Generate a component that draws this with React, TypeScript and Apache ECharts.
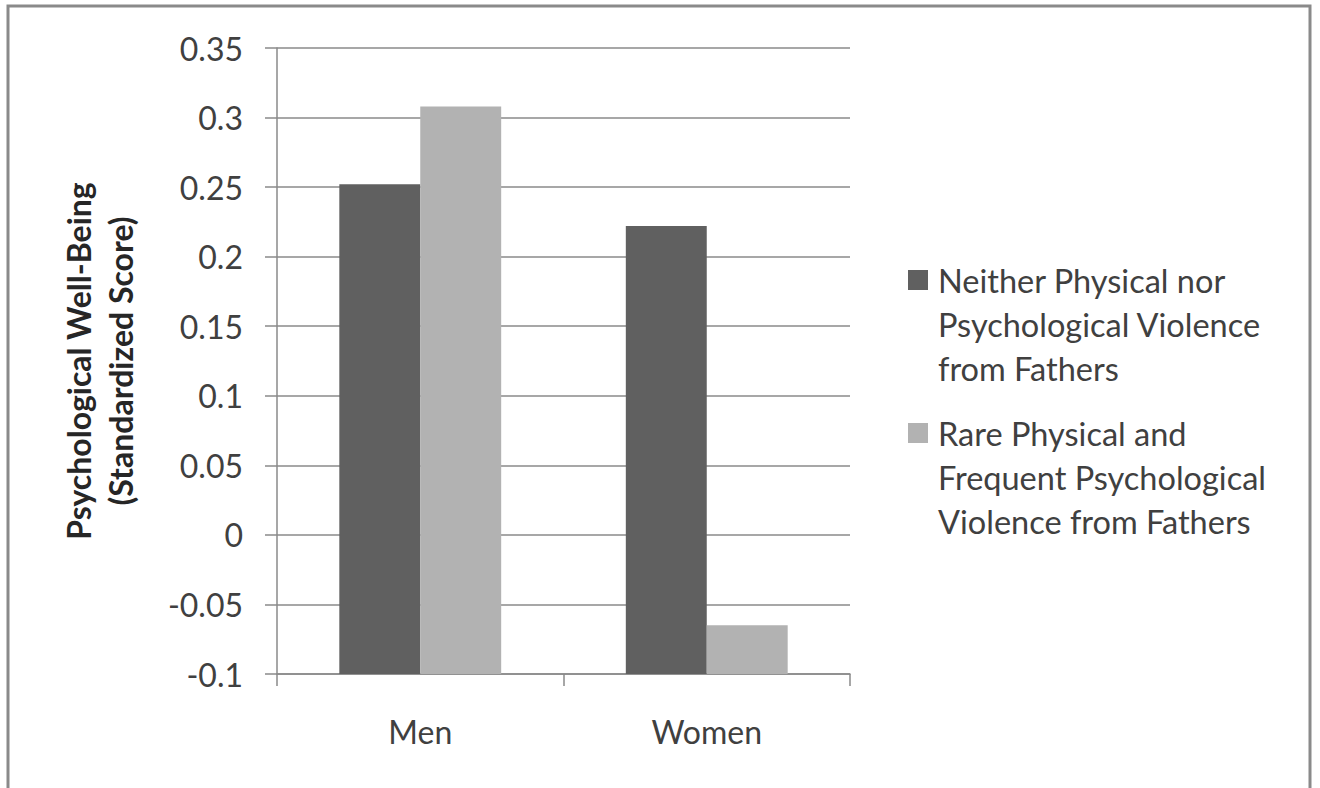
import React, { useEffect, useRef } from "react";
import * as echarts from "echarts";

const CATEGORIES = ["Men", "Women"];
const SERIES_NAMES = [
  "Neither Physical nor\nPsychological Violence\nfrom Fathers",
  "Rare Physical and\nFrequent Psychological\nViolence from Fathers",
];
const NEITHER_VALUES = [0.252, 0.222];
const RARE_VALUES = [0.308, -0.065];
const AXIS_MIN = -0.1;
const AXIS_MAX = 0.35;
const AXIS_STEP = 0.05;
const COLORS = ["#606060", "#b2b2b2"];

const FONT = "Lato, 'Open Sans', sans-serif";
const TEXT_COLOR = "#404040";
const LINE_COLOR = "#8a8a8a";

// Bars in the original rise from the axis floor (-0.1), so values are shifted by the floor
const shift = (arr: number[]) => arr.map((v) => +(v - AXIS_MIN).toFixed(4));

const LEGEND_ICON =
  "path://M0,0L0,0M30,132L30,132M5,12L25,12L25,32L5,32Z";

export default function App() {
  const ref = useRef<HTMLDivElement>(null);

  useEffect(() => {
    if (!ref.current) return;
    const chart = echarts.init(ref.current, undefined, { renderer: "svg" });
    chart.setOption({
      animation: false,
      backgroundColor: "#ffffff",
      textStyle: { fontFamily: FONT },
      graphic: [
        {
          type: "rect",
          silent: true,
          shape: { x: 8, y: 6, width: 1302, height: 840 },
          style: { fill: "none", stroke: LINE_COLOR, lineWidth: 3 },
          z: 100,
        },
      ],
      grid: { left: 277, right: 470, top: 48, bottom: 114, containLabel: false },
      legend: {
        orient: "vertical",
        left: 903,
        top: 258,
        padding: 0,
        itemGap: 21,
        itemWidth: 30,
        itemHeight: 132,
        icon: LEGEND_ICON,
        selectedMode: false,
        data: SERIES_NAMES,
        textStyle: {
          fontFamily: FONT,
          fontSize: 32.5,
          lineHeight: 44,
          color: TEXT_COLOR,
        },
      },
      xAxis: {
        type: "category",
        data: CATEGORIES,
        boundaryGap: true,
        axisLine: { show: true, lineStyle: { color: LINE_COLOR, width: 1.5 } },
        axisTick: {
          show: true,
          length: 12,
          alignWithLabel: false,
          lineStyle: { color: LINE_COLOR, width: 1.5 },
        },
        axisLabel: {
          fontFamily: FONT,
          fontSize: 32,
          color: TEXT_COLOR,
          margin: 41,
        },
        splitLine: { show: false },
      },
      yAxis: {
        type: "value",
        min: 0,
        max: +(AXIS_MAX - AXIS_MIN).toFixed(4),
        interval: AXIS_STEP,
        name: "Psychological Well-Being\n(Standardized Score)",
        nameLocation: "middle",
        nameRotate: 90,
        nameGap: 136,
        nameTextStyle: {
          fontFamily: FONT,
          fontSize: 32,
          fontWeight: "bold",
          color: "#262626",
          lineHeight: 42,
        },
        axisLine: { show: true, lineStyle: { color: LINE_COLOR, width: 1.5 } },
        axisTick: {
          show: true,
          length: 12,
          lineStyle: { color: LINE_COLOR, width: 1.5 },
        },
        axisLabel: {
          fontFamily: FONT,
          fontSize: 32,
          color: TEXT_COLOR,
          margin: 34,
          formatter: (v: number) => String(Math.round((v + AXIS_MIN) * 100) / 100),
        },
        splitLine: { show: true, lineStyle: { color: LINE_COLOR, width: 1.5 } },
      },
      series: [
        {
          name: SERIES_NAMES[0],
          type: "bar",
          data: shift(NEITHER_VALUES),
          itemStyle: { color: COLORS[0] },
          barGap: "0%",
          barCategoryGap: "43.5%",
        },
        {
          name: SERIES_NAMES[1],
          type: "bar",
          data: shift(RARE_VALUES),
          itemStyle: { color: COLORS[1] },
          barGap: "0%",
          barCategoryGap: "43.5%",
        },
      ],
    });
    return () => chart.dispose();
  }, []);

  return (
    <div
      ref={ref}
      style={{ position: "absolute", left: 0, top: 0, width: 1320, height: 788 }}
    />
  );
}
